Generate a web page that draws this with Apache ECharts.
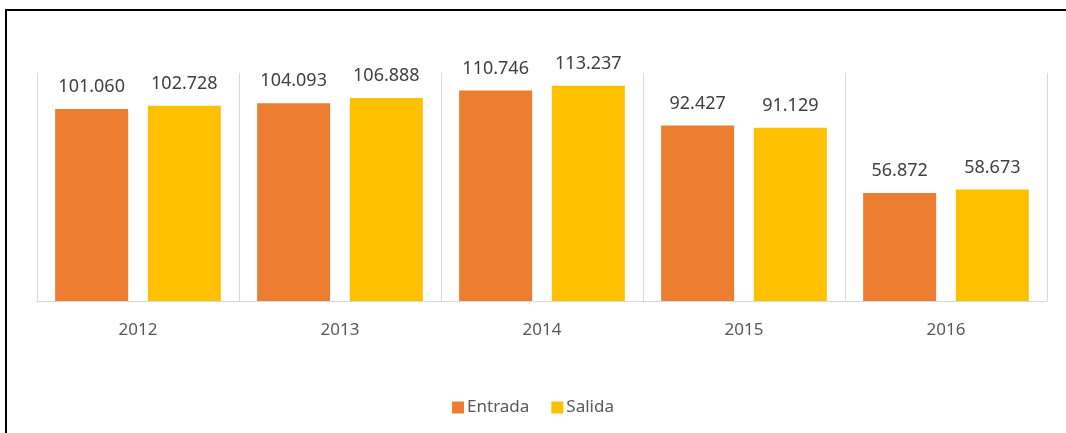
<!DOCTYPE html>
<html>
<head>
    <meta charset="utf-8">
    <title>ECharts</title>
    <script src="https://cdn.jsdelivr.net/npm/echarts@6/dist/echarts.min.js" type="text/javascript"></script>
    <style>
        html, body { margin: 0; padding: 0; background: #fff; }
    </style>
</head>
<body>
<div id="div1" style="width: 1066px;height:433px;"></div>
<script type="text/javascript">
    // datos
    var years = ['2012', '2013', '2014', '2015', '2016'];
    var entrada = [101060, 104093, 110746, 92427, 56872];
    var salida = [102728, 106888, 113237, 91129, 58673];

    // 101060 -> "101.060"
    function fmt(v) {
        return String(v).replace(/\B(?=(\d{3})+(?!\d))/g, '.');
    }

    var myChart1 = echarts.init(document.getElementById('div1'));
    var labelStyle = {
        show: true,
        position: 'top',
        distance: 13,
        color: '#404040',
        fontSize: 18,
        fontFamily: 'Noto Sans',
        formatter: function (p) { return fmt(p.value); }
    };
    var option1 = {
        animation: false,
        textStyle: { fontFamily: 'Noto Sans' },
        grid: { left: 37, right: 19, top: 73, bottom: 132 },
        legend: {
            bottom: 12,
            left: 'center',
            itemWidth: 12,
            itemHeight: 12,
            itemGap: 22,
            icon: 'rect',
            textStyle: { color: '#595959', fontSize: 17, padding: [0, 0, 0, -2] },
            data: ['Entrada', 'Salida']
        },
        xAxis: {
            type: 'category',
            data: years,
            axisLine: { lineStyle: { color: '#d9d9d9', width: 1 } },
            axisTick: { show: false },
            axisLabel: { color: '#595959', fontSize: 17, margin: 21 },
            splitLine: { show: true, interval: 0, lineStyle: { color: '#d9d9d9', width: 1 } }
        },
        yAxis: {
            type: 'value',
            min: 0,
            max: 120000,
            show: false,
            splitLine: { show: false }
        },
        series: [{
            name: 'Entrada',
            type: 'bar',
            data: entrada,
            barWidth: 73,
            barGap: '27%',
            itemStyle: { color: '#ED7D31' },
            label: labelStyle
        }, {
            name: 'Salida',
            type: 'bar',
            data: salida,
            barWidth: 73,
            itemStyle: { color: '#FFC000' },
            label: labelStyle
        }],
        graphic: [{
            type: 'polyline',
            shape: { points: [[6, 460], [6, 10], [1070, 10]] },
            style: { fill: null, stroke: '#000', lineWidth: 2 }
        }]
    };
    myChart1.setOption(option1);
</script>
</body>
</html>
